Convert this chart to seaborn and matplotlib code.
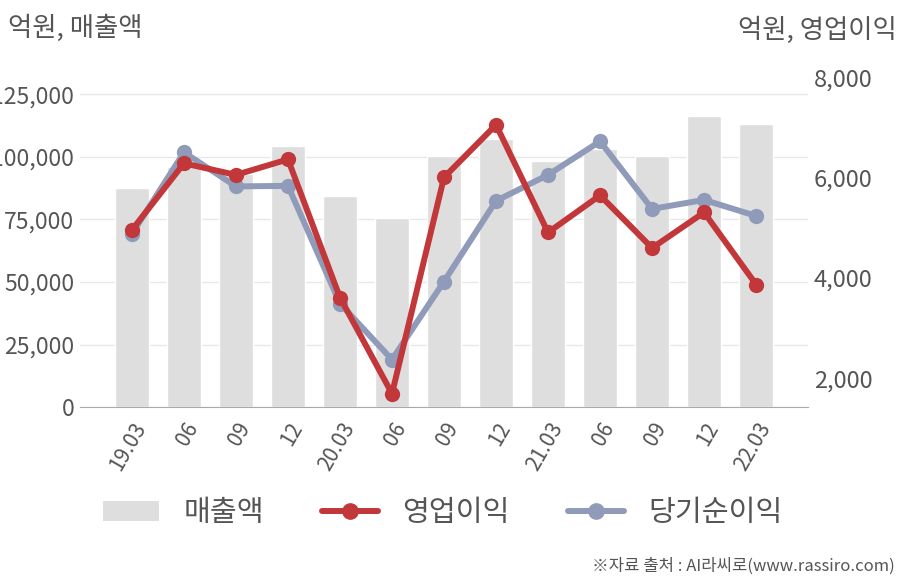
import numpy as np
import pandas as pd
import matplotlib
matplotlib.use('Agg')
import matplotlib.pyplot as plt
from matplotlib.patches import Patch
from matplotlib.lines import Line2D
from matplotlib.ticker import FuncFormatter
import seaborn as sns

# 데이터
quarters = ['19.03', '06', '09', '12', '20.03', '06', '09', '12',
            '21.03', '06', '09', '12', '22.03']
sales = [87600, 96000, 93000, 104400, 84400, 75600, 100400, 107300,
         98500, 103300, 100400, 116500, 113300]
op_profit = [4960, 6290, 6060, 6370, 3610, 1690, 6010, 7060,
             4910, 5650, 4600, 5310, 3870]
net_income = [4880, 6510, 5830, 5840, 3490, 2370, 3930, 5540,
              6060, 6730, 5380, 5560, 5240]

BAR = '#dedede'
RED = '#c1373a'
BLUE = '#8f9bb8'
TXT = '#555555'

sns.set_style('white')
plt.rcParams['font.family'] = ['Noto Sans CJK KR', 'DejaVu Sans']

df = pd.DataFrame({'q': np.arange(len(quarters)), 'sales': sales,
                   'op': op_profit, 'net': net_income})

fig = plt.figure(figsize=(9.08, 5.80), dpi=100)
ax = fig.add_axes([0.088, 0.298, 0.802, 0.599])

sns.barplot(data=df, x='q', y='sales', color=BAR, width=0.65,
            saturation=1, ax=ax, zorder=2)
ax.set_xlim(-1, 13)
ax.set_ylim(0, 138800)
ax.set_yticks([0, 25000, 50000, 75000, 100000, 125000])
ax.yaxis.set_major_formatter(FuncFormatter(lambda v, p: f'{int(v):,}'))
ax.grid(axis='y', color='#e8e8e8', linewidth=1, zorder=0)
ax.set_axisbelow(True)
for s in ['top', 'right', 'left']:
    ax.spines[s].set_visible(False)
ax.spines['bottom'].set_color('#aaaaaa')
ax.set_xticks(range(len(quarters)))
ax.set_xticklabels(quarters, rotation=60, ha='right', rotation_mode='anchor')
ax.tick_params(axis='x', length=0, labelsize=15, colors=TXT, pad=8)
ax.tick_params(axis='y', length=0, labelsize=16.5, colors=TXT, pad=4)
ax.set_xlabel('')
ax.set_ylabel('')

ax2 = ax.twinx()
sns.lineplot(data=df, x='q', y='net', color=BLUE, linewidth=4.3, marker='o',
             markersize=11, markeredgewidth=0, ax=ax2, zorder=3)
sns.lineplot(data=df, x='q', y='op', color=RED, linewidth=4.3, marker='o',
             markersize=11, markeredgewidth=0, ax=ax2, zorder=4)
ax2.set_ylim(1420, 8360)
ax2.set_yticks([2000, 4000, 6000, 8000])
ax2.yaxis.set_major_formatter(FuncFormatter(lambda v, p: f'{int(v):,}'))
ax2.tick_params(axis='y', length=0, labelsize=17, colors=TXT, pad=4)
ax2.set_xlim(-1, 13)
ax2.set_ylabel('')
ax2.set_xlabel('')
for s in ax2.spines.values():
    s.set_visible(False)

fig.text(0.009, 0.952, '억원, 매출액', fontsize=19, color=TXT, va='center')
fig.text(0.988, 0.948, '억원, 영업이익', fontsize=19, color=TXT, va='center', ha='right')

handles = [Patch(facecolor=BAR, edgecolor='none'),
           Line2D([0], [0], color=RED, linewidth=4.3, marker='o', markersize=11),
           Line2D([0], [0], color=BLUE, linewidth=4.3, marker='o', markersize=11)]
fig.legend(handles, ['매출액', '영업이익', '당기순이익'], loc='center',
           bbox_to_anchor=(0.488, 0.115), ncol=3, frameon=False, fontsize=21,
           handlelength=1.9, columnspacing=2.0, handletextpad=0.85,
           labelcolor=TXT)

fig.text(0.985, 0.024, '※자료 출처 : AI라씨로(www.rassiro.com)', fontsize=12,
         color=TXT, ha='right', va='center')

fig.savefig('out.png', dpi=100)
